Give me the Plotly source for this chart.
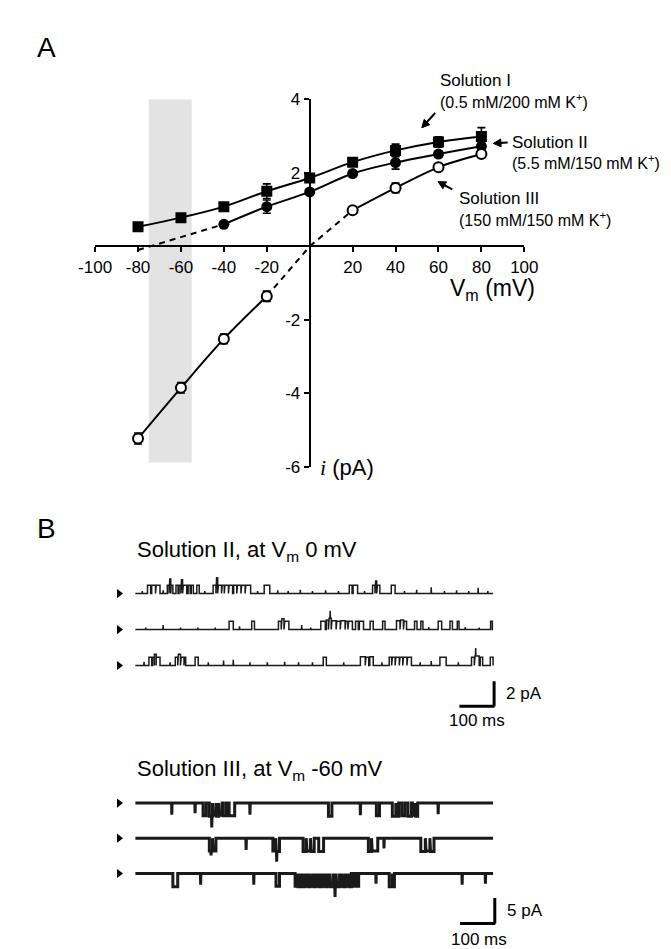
import bisect
import plotly.graph_objects as go

# ---------------- Panel A data ----------------
v_sol1 = [-80, -60, -40, -20, 0, 20, 40, 60, 80]
i_sol1 = [0.53, 0.78, 1.08, 1.50, 1.86, 2.29, 2.61, 2.84, 2.99]
e_sol1 = [0.05, 0.05, 0.06, 0.20, 0.08, 0.10, 0.17, 0.14, 0.24]

v_sol2 = [-40, -20, 0, 20, 40, 60, 80]
i_sol2 = [0.60, 1.08, 1.48, 1.98, 2.28, 2.51, 2.72]
e_sol2 = [0.06, 0.18, 0.07, 0.08, 0.18, 0.06, 0.08]

v_sol3 = [-80, -60, -40, -20, 20, 40, 60, 80]
i_sol3 = [-5.23, -3.85, -2.52, -1.36, 0.98, 1.59, 2.15, 2.51]
e_sol3 = [0.15, 0.14, 0.13, 0.14, 0.05, 0.13, 0.06, 0.06]

# dashed extrapolations of the fits
v_ext2 = [-80, -40]
i_ext2 = [-0.10, 0.60]
v_ext3 = [-20, 0, 20]
i_ext3 = [-1.36, 0.0, 0.98]

x_ticks = [-100, -80, -60, -40, -20, 20, 40, 60, 80, 100]
x_ticktext = ["-100", "-80", "-60", "-40", "-20", "20", "40", "60", "80", "100"]
y_ticks = [-6, -4, -2, 2, 4]
y_ticktext = ["-6", "-4", "-2", "2", "4"]
shade_v = [-75, -55]
shade_i = [-5.88, 4]

# ---------------- Panel B data: channel events (start ms, end ms, level pA) ----------------
s2_row1_events = [
    (35, 44, 0.65), (47, 58, 0.65), (60, 71, 0.65),
    (92, 97, 0.65), (99, 102, 1.15), (103, 108, 0.65),
    (117, 123, 0.65), (126, 131, 0.65), (133, 136, 1.1), (138, 148, 0.65), (152, 158, 0.65), (161, 167, 0.65),
    (177, 184, 0.65),
    (224, 232, 0.65), (234, 237, 1.25), (239, 248, 0.65), (250, 256, 0.65), (258, 268, 0.65), (270, 280, 0.65),
    (283, 292, 0.65), (294, 304, 0.65), (306, 316, 0.65), (318, 332, 0.65),
    (371, 387, 0.65),
    (616, 624, 0.65), (627, 640, 0.65),
    (683, 690, 0.65), (692, 695, 1.0), (697, 704, 0.65),
    (737, 748, 0.65)]
s2_row1_blips = [(20, 0.2), (80, 0.25), (200, 0.2), (352, 0.2), (410, 0.25), (440, 0.2), (475, 0.3),
                 (510, 0.2), (548, 0.25), (585, 0.2), (660, 0.2), (775, 0.2), (810, 0.3), (852, 0.5),
                 (890, 0.2), (925, 0.25), (960, 0.2), (987, 0.45), (1015, 0.2)]

s2_row2_events = [
    (270, 282, 0.65), (335, 343, 0.65), (412, 420, 0.65), (422, 428, 0.85), (430, 442, 0.65),
    (534, 547, 0.65), (550, 556, 0.75), (558, 564, 0.9), (566, 578, 0.7), (580, 590, 0.65), (592, 604, 0.7),
    (606, 612, 0.65), (614, 625, 0.65),
    (634, 642, 0.65), (645, 657, 0.65), (676, 685, 0.65), (712, 719, 0.65), (752, 762, 0.7), (764, 772, 0.75),
    (774, 781, 0.65), (804, 811, 0.65), (822, 828, 0.65), (872, 882, 0.65), (906, 913, 0.65), (927, 932, 0.65),
    (1023, 1028, 0.65)]
s2_row2_blips = [(30, 0.15), (80, 0.35), (130, 0.15), (180, 0.15), (230, 0.15), (300, 0.25), (479, 0.35),
                 (505, 0.15), (561, 1.5), (845, 0.2), (950, 0.2), (990, 0.15)]

s2_row3_events = [
    (39, 47, 0.65), (50, 55, 0.65), (55, 60, 0.9), (60, 71, 0.65),
    (115, 122, 0.65), (124, 130, 0.9), (132, 140, 0.65), (142, 145, 0.65),
    (172, 181, 0.65),
    (541, 550, 0.65),
    (648, 662, 0.7), (664, 672, 0.65), (675, 685, 0.7),
    (731, 738, 0.65), (740, 748, 0.65), (750, 760, 0.65), (762, 770, 0.65), (772, 782, 0.65), (784, 795, 0.65),
    (877, 895, 0.65),
    (968, 976, 0.65), (978, 990, 0.75), (993, 1000, 0.65),
    (1022, 1030, 0.65)]
s2_row3_blips = [(25, 0.3), (100, 0.25), (210, 0.25), (254, 0.4), (282, 0.45), (330, 0.25), (380, 0.25),
                 (430, 0.3), (470, 0.25), (510, 0.25), (600, 0.25), (710, 0.25), (820, 0.25), (852, 0.35),
                 (930, 0.25), (980, 1.4)]

s3_row1_events = [
    (195, 204, -2.5), (213, 222, -2.6), (224, 232, -2.4), (234, 240, -2.6), (242, 250, -2.4),
    (253, 262, -2.5), (270, 286, -2.5),
    (556, 566, -2.6), (694, 703, -2.5), (740, 750, -2.6), (752, 758, -2.6), (767, 776, -2.5),
    (785, 795, -2.6), (798, 805, -2.4), (807, 813, -2.6)]
s3_row1_blips = [(105, -2.3), (172, -2.0), (220, -4.8), (330, -2.3), (648, -2.4), (872, -2.2)]

s3_row2_events = [
    (213, 222, -2.5), (224, 232, -2.5), (396, 404, -2.5), (406, 415, -2.6),
    (483, 492, -2.6), (494, 504, -2.5), (506, 515, -2.6), (528, 542, -2.6),
    (671, 680, -2.6), (682, 698, -2.5), (822, 835, -2.6), (837, 848, -2.5), (850, 860, -2.6)]
s3_row2_blips = [(218, -3.4), (319, -2.3), (407, -4.6), (716, -2.0)]

s3_row3_events = [
    (108, 122, -2.6), (405, 415, -2.5),
    (460, 466, -2.5), (468, 474, -2.6), (476, 480, -2.5), (482, 488, -2.6), (490, 496, -2.5), (498, 503, -2.6),
    (505, 512, -2.5), (514, 520, -2.6), (522, 528, -2.5), (530, 536, -2.6), (538, 544, -2.5), (546, 552, -2.6),
    (554, 560, -2.5), (562, 570, -2.6), (572, 578, -2.5), (580, 588, -2.6), (590, 596, -2.5), (598, 605, -2.6),
    (607, 614, -2.5), (616, 622, -2.6), (625, 632, -2.5), (636, 643, -2.5),
    (731, 740, -2.6), (742, 746, -2.6)]
s3_row3_blips = [(188, -2.2), (341, -2.2), (575, -4.6), (693, -2.0), (941, -2.2), (1008, -2.0)]

# ---------------- layout helpers ----------------
W, H = 671, 949


def px(x):
    return x / W


def py(y):
    return 1 - y / H


def step_trace(events, blips, t_end=1030.0):
    xs, ys = [0.0], [0.0]
    for t0, t1, lv in sorted(events):
        xs += [t0, t0, t1, t1]
        ys += [0.0, lv, lv, 0.0]
    xs.append(t_end)
    ys.append(0.0)
    for t, a in sorted(blips):
        k = bisect.bisect_right(xs, t)
        base = ys[k - 1]
        xs[k:k] = [t - 0.7, t, t + 0.7]
        ys[k:k] = [base, a, base]
    return xs, ys


fig = go.Figure()

# ---------- Panel A ----------
fig.add_shape(type="rect", xref="x", yref="y", x0=shade_v[0], x1=shade_v[1], y0=shade_i[0], y1=shade_i[1],
              fillcolor="#e3e3e3", line=dict(width=0), layer="below")

line_style = dict(color="black", width=2)
dash_style = dict(color="black", width=2, dash="6px,5px")
fig.add_trace(go.Scatter(x=v_ext2, y=i_ext2, mode="lines", line=dash_style, xaxis="x", yaxis="y"))
fig.add_trace(go.Scatter(x=v_ext3, y=i_ext3, mode="lines", line=dash_style, xaxis="x", yaxis="y"))
fig.add_trace(go.Scatter(x=v_sol1, y=i_sol1, mode="lines", line=dict(shape="spline", smoothing=1, **line_style),
                         xaxis="x", yaxis="y"))
fig.add_trace(go.Scatter(x=v_sol2, y=i_sol2, mode="lines", line=dict(shape="spline", smoothing=1, **line_style),
                         xaxis="x", yaxis="y"))
neg3 = [(v, i) for v, i in zip(v_sol3, i_sol3) if v < 0]
pos3 = [(v, i) for v, i in zip(v_sol3, i_sol3) if v > 0]
fig.add_trace(go.Scatter(x=[p[0] for p in neg3], y=[p[1] for p in neg3], mode="lines",
                         line=dict(shape="spline", smoothing=1, **line_style), xaxis="x", yaxis="y"))
fig.add_trace(go.Scatter(x=[p[0] for p in pos3], y=[p[1] for p in pos3], mode="lines",
                         line=dict(shape="spline", smoothing=1, **line_style), xaxis="x", yaxis="y"))

err = dict(type="data", thickness=1.6, width=4, color="black")
fig.add_trace(go.Scatter(x=v_sol1, y=i_sol1, mode="markers", marker=dict(symbol="square", size=11, color="black"),
                         error_y=dict(array=e_sol1, **err), xaxis="x", yaxis="y"))
fig.add_trace(go.Scatter(x=v_sol2, y=i_sol2, mode="markers", marker=dict(symbol="circle", size=11, color="black"),
                         error_y=dict(array=e_sol2, **err), xaxis="x", yaxis="y"))
fig.add_trace(go.Scatter(x=v_sol3, y=i_sol3, mode="markers",
                         marker=dict(symbol="circle", size=10, color="white", line=dict(color="black", width=2)),
                         error_y=dict(array=e_sol3, **err), xaxis="x", yaxis="y"))

# ---------- Panel B traces ----------
s2_rows = [(s2_row1_events, s2_row1_blips), (s2_row2_events, s2_row2_blips), (s2_row3_events, s2_row3_blips)]
s3_rows = [(s3_row1_events, s3_row1_blips), (s3_row2_events, s3_row2_blips), (s3_row3_events, s3_row3_blips)]
s2_base = [9.51, 6.64, 3.77]
s3_base = [24.6, 17.7, 10.77]

for (ev, bl), b0 in zip(s2_rows, s2_base):
    xs, ys = step_trace(ev, bl)
    fig.add_trace(go.Scatter(x=xs, y=[b0 + v for v in ys], mode="lines",
                             line=dict(color="#1a1a1a", width=1.5), xaxis="x2", yaxis="y2"))
for (ev, bl), b0 in zip(s3_rows, s3_base):
    xs, ys = step_trace(ev, bl)
    fig.add_trace(go.Scatter(x=xs, y=[b0 + v for v in ys], mode="lines",
                             line=dict(color="#1a1a1a", width=3), xaxis="x3", yaxis="y3"))

fig.add_trace(go.Scatter(x=[-47] * 3, y=s2_base, mode="markers",
                         marker=dict(symbol="triangle-right", size=8, color="black"), xaxis="x2", yaxis="y2"))
fig.add_trace(go.Scatter(x=[-47] * 3, y=s3_base, mode="markers",
                         marker=dict(symbol="triangle-right", size=8, color="black"), xaxis="x3", yaxis="y3"))

# scale bars
bar = dict(color="black", width=3)
fig.add_shape(type="line", xref="x2", yref="y2", x0=1033, x1=1033, y0=0.52, y1=2.52, line=bar)
fig.add_shape(type="line", xref="x2", yref="y2", x0=933, x1=1034.5, y0=0.52, y1=0.52, line=bar)
fig.add_shape(type="line", xref="x3", yref="y3", x0=1035, x1=1035, y0=0.96, y1=5.96, line=bar)
fig.add_shape(type="line", xref="x3", yref="y3", x0=935, x1=1036.5, y0=0.96, y1=0.96, line=bar)

# ---------- annotations ----------
ann = []


def text(x, y, s, size, xanchor="left"):
    ann.append(dict(x=px(x), y=py(y), xref="paper", yref="paper", text=s, showarrow=False,
                    xanchor=xanchor, yanchor="middle", font=dict(size=size, color="black")))


def arrow(tip, tail, head=8.0, half=4.0):
    dx, dy = tip[0] - tail[0], tip[1] - tail[1]
    n = (dx * dx + dy * dy) ** 0.5
    ux, uy = dx / n, dy / n
    bx, by = tip[0] - ux * head, tip[1] - uy * head
    fig.add_shape(type="line", xref="paper", yref="paper", x0=px(tail[0]), y0=py(tail[1]),
                  x1=px(bx + ux), y1=py(by + uy), line=dict(color="black", width=2))
    p1 = (bx - uy * half, by + ux * half)
    p2 = (bx + uy * half, by - ux * half)
    path = "M {:.5f},{:.5f} L {:.5f},{:.5f} L {:.5f},{:.5f} Z".format(
        px(tip[0]), py(tip[1]), px(p1[0]), py(p1[1]), px(p2[0]), py(p2[1]))
    fig.add_shape(type="path", xref="paper", yref="paper", path=path, fillcolor="black",
                  line=dict(color="black", width=1))


text(23, 31, "A", 28, "center")
text(23, 522, "B", 28, "center")

text(433, 65, "Solution I", 17)
text(433, 86, "(0.5 mM/200 mM K<sup>+</sup>)", 16)
text(509, 128, "Solution II", 17)
text(509, 148, "(5.5 mM/150 mM K<sup>+</sup>)", 16)
text(453, 185, "Solution III", 17)
text(453, 206, "(150 mM/150 mM K<sup>+</sup>)", 16)
arrow((416, 113), (430, 98))
arrow((491, 129), (506, 128))
arrow((433, 168), (448, 176))

text(443, 278, "V<sub>m</sub> (mV)", 23)
text(307, 460, "<span style=\"font-family:'Liberation Serif'\"><i>i</i></span> (pA)", 22)

text(115, 545, "Solution II, at V<sub>m</sub> 0 mV", 22)
text(115, 768, "Solution III, at V<sub>m</sub> -60 mV", 22)
text(502, 690, "2 pA", 17)
text(474, 718, "100 ms", 17, "center")
text(503, 912, "5 pA", 17)
text(476, 941, "100 ms", 17, "center")

# ---------- axes ----------
t_left, t_right = -60, 1045
ms_px = 0.3641
x_dom = [px(115.7 + t_left * ms_px), px(115.7 + t_right * ms_px)]

fig.update_layout(
    width=W, height=H, margin=dict(l=0, r=0, t=0, b=0),
    paper_bgcolor="white", plot_bgcolor="rgba(0,0,0,0)", showlegend=False,
    font=dict(family="Liberation Sans, Arial, sans-serif", color="black"),
    xaxis=dict(domain=[px(73.5), px(523.5)], range=[-100, 100], anchor="free", position=py(234),
               showline=True, linecolor="black", linewidth=2, ticks="outside", ticklen=5, tickwidth=2,
               tickcolor="black", tickvals=x_ticks, ticktext=x_ticktext, tickfont=dict(size=17),
               showgrid=False, zeroline=False, fixedrange=True),
    yaxis=dict(domain=[py(459), py(84)], range=[-6, 4], anchor="free", position=px(298.5),
               showline=True, linecolor="black", linewidth=2, ticks="outside", ticklen=5, tickwidth=2,
               tickcolor="black", tickvals=y_ticks, ticktext=y_ticktext, tickfont=dict(size=17),
               showgrid=False, zeroline=False, fixedrange=True),
    xaxis2=dict(domain=x_dom, range=[t_left, t_right], anchor="y2", visible=False),
    yaxis2=dict(domain=[py(710), py(560)], range=[0, 11.72], anchor="x2", visible=False),
    xaxis3=dict(domain=x_dom, range=[t_left, t_right], anchor="y3", visible=False),
    yaxis3=dict(domain=[py(930), py(780)], range=[0, 28.85], anchor="x3", visible=False),
    annotations=ann,
)

fig.write_html("out.html")
